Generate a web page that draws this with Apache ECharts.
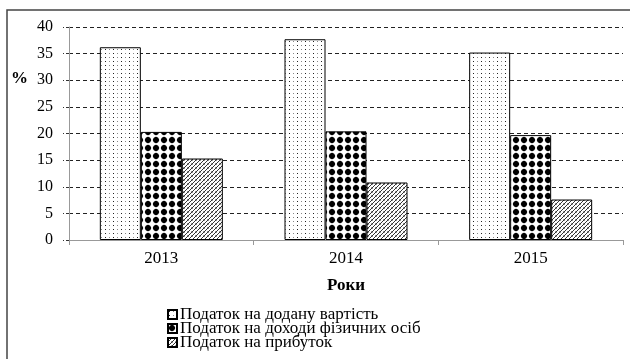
<!DOCTYPE html>
<html>
<head>
<meta charset="utf-8">
<script src="https://cdn.jsdelivr.net/npm/echarts@6/dist/echarts.min.js"></script>
<style>
  html, body { margin: 0; padding: 0; background: #fff; }
  #chart { width: 630px; height: 359px; }
</style>
</head>
<body>
<div id="chart"></div>
<script>
// Tax structure by year, share in %
const years = ['2013', '2014', '2015'];
const vatShare = [36.2, 37.7, 35.2];
const pitShare = [20.3, 20.4, 19.7];
const profitShare = [15.3, 10.8, 7.6];
const seriesNames = [
  'Податок на додану вартість',
  'Податок на доходи фізичних осіб',
  'Податок на прибуток'
];
const yTicks = [0, 5, 10, 15, 20, 25, 30, 35, 40];

const FONT = '"Liberation Serif", "Times New Roman", serif';

// Fill patterns for the bars
function makeCanvas(w, h, draw) {
  const c = document.createElement('canvas');
  c.width = w; c.height = h;
  const ctx = c.getContext('2d');
  ctx.fillStyle = '#fff';
  ctx.fillRect(0, 0, w, h);
  draw(ctx);
  return c;
}
const dotPattern = makeCanvas(8, 8, ctx => {
  ctx.fillStyle = '#222';
  ctx.fillRect(1, 1, 1, 1);
  ctx.fillRect(1, 5, 1, 1);
  ctx.fillStyle = '#888';
  ctx.fillRect(5, 1, 1, 1);
  ctx.fillRect(5, 5, 1, 1);
});
const diamondPattern = makeCanvas(8, 8, ctx => {
  ctx.fillStyle = '#000';
  ctx.beginPath();
  ctx.moveTo(4, 0.6);
  ctx.lineTo(7.4, 4);
  ctx.lineTo(4, 7.4);
  ctx.lineTo(0.6, 4);
  ctx.closePath();
  ctx.fill();
  ctx.beginPath();
  ctx.arc(4, 4, 2.9, 0, Math.PI * 2);
  ctx.fill();
});
const hatchPattern = makeCanvas(4, 4, ctx => {
  ctx.fillStyle = '#333';
  ctx.fillRect(3, 0, 1, 1);
  ctx.fillRect(2, 1, 1, 1);
  ctx.fillRect(1, 2, 1, 1);
  ctx.fillRect(0, 3, 1, 1);
  ctx.fillStyle = '#999';
  ctx.fillRect(0, 0, 1, 1);
  ctx.fillRect(3, 3, 1, 1);
});

function pat(img) { return { image: img, repeat: 'repeat' }; }

const values = [vatShare, pitShare, profitShare];
const patterns = [dotPattern, diamondPattern, hatchPattern];

const chart = echarts.init(document.getElementById('chart'), null, { renderer: 'canvas' });
chart.setOption({
  animation: false,
  backgroundColor: '#fff',
  textStyle: { fontFamily: FONT },
  grid: { left: 69, right: 7, top: 27, bottom: 119 },
  legend: {
    orient: 'vertical',
    left: 167,
    top: 306,
    height: 53,
    padding: 0,
    itemWidth: 9,
    itemHeight: 9,
    itemGap: -3,
    icon: 'rect',
    textStyle: { fontFamily: FONT, fontSize: 17, color: '#000', padding: [0, 0, 0, -2] },
    data: seriesNames
  },
  xAxis: {
    type: 'category',
    data: years,
    axisLine: { lineStyle: { color: '#999', width: 1 } },
    axisTick: { show: true, interval: 0, length: 5, lineStyle: { color: '#999' } },
    axisLabel: { fontFamily: FONT, fontSize: 17, color: '#000', margin: 10 },
    name: 'Роки',
    nameLocation: 'middle',
    nameGap: 37,
    nameTextStyle: { fontFamily: FONT, fontSize: 17, fontWeight: 'bold', color: '#000' }
  },
  yAxis: {
    type: 'value',
    min: yTicks[0],
    max: yTicks[yTicks.length - 1],
    interval: yTicks[1] - yTicks[0],
    axisLine: { show: true, lineStyle: { color: '#999', width: 1 } },
    axisTick: { show: true, length: 6, lineStyle: { color: '#333', type: [3, 2] } },
    axisLabel: { fontFamily: FONT, fontSize: 16, color: '#000', margin: 16 },
    splitLine: { show: true, lineStyle: { color: '#222', width: 1, type: [4, 3] } }
  },
  graphic: [
    {
      type: 'rect',
      shape: { x: 7, y: 10, width: 660, height: 400 },
      style: { fill: 'none', stroke: '#444', lineWidth: 1.5 },
      silent: true
    },
    {
      type: 'text',
      left: 11,
      top: 70,
      style: { text: '%', font: 'bold 17px ' + FONT, fill: '#000' }
    }
  ],
  series: seriesNames.map((name, i) => ({
    name: name,
    type: 'bar',
    data: values[i],
    barWidth: 41,
    barGap: '0%',
    itemStyle: { color: pat(patterns[i]), borderColor: '#000', borderWidth: 1 }
  }))
});
</script>
</body>
</html>
